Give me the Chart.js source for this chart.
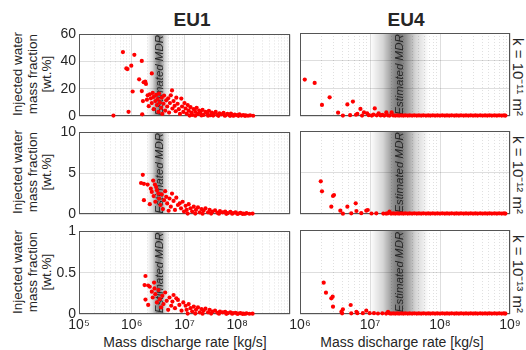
<!DOCTYPE html>
<html>
<head>
<meta charset="utf-8">
<script src="https://cdn.jsdelivr.net/npm/chart.js@4.4.1/dist/chart.umd.min.js"></script>
<style>
  body { margin: 0; background: #fff; }
  #wrap { position: relative; width: 526px; height: 350px; overflow: hidden;
          font-family: "Liberation Sans", Arial, sans-serif; color: #262626; }
  #wrap canvas { position: absolute; }
  .lbl { position: absolute; white-space: nowrap; transform: translate(-50%, -50%); }
  .ttl { font-weight: bold; font-size: 19px; }
  .ylab { transform: translate(-50%, -50%) rotate(-90deg); text-align: center;
          font-size: 13.5px; line-height: 14.5px; }
  .klab { transform: translate(-50%, -50%) rotate(90deg); font-size: 15px; }
  .xt { font-size: 14px; }
</style>
</head>
<body>
<div id="wrap">
  <div class="lbl ttl" style="left:192px;top:20px">EU1</div>
  <div class="lbl ttl" style="left:406px;top:20px">EU4</div>

  <div class="lbl ylab" style="left:33px;top:74px">Injected water<br>mass fraction<br>[wt.%]</div>
  <div class="lbl ylab" style="left:33px;top:172px">Injected water<br>mass fraction<br>[wt.%]</div>
  <div class="lbl ylab" style="left:33px;top:272px">Injected water<br>mass fraction<br>[wt.%]</div>

  <div class="lbl klab" style="left:519px;top:77px">k = 10⁻¹¹ m²</div>
  <div class="lbl klab" style="left:519px;top:175px">k = 10⁻¹² m²</div>
  <div class="lbl klab" style="left:519px;top:274px">k = 10⁻¹³ m²</div>

  <div class="lbl xt" style="left:185px;top:342px">Mass discharge rate [kg/s]</div>
  <div class="lbl xt" style="left:402px;top:342px">Mass discharge rate [kg/s]</div>
</div>

<script>
// x range (decades) and which decades get a label
const eu1Decades = [5, 6, 7, 8, 9];
const eu1Labels = [5, 6, 7, 8];
const eu4Decades = [6, 7, 8, 9];
const eu4Labels = [6, 7, 8, 9];

// y axis per row: k = 1e-11, 1e-12, 1e-13
const rowMax = [60, 10, 1];
const rowStep = [20, 5, 0.5];

// estimated MDR band [low, centre, high] in kg/s
const mdrEU1 = [1.95e6, 3.3e6, 5.2e6];
const mdrEU4 = [1.0e7, 2.6e7, 7.0e7];

// [mass discharge rate kg/s, injected water wt.%]
const eu1K11 = [
  [4.5e5,0.3],[6.8e5,47],[7.9e5,35],[8.3e5,34.5],[8.7e5,3.1],[9.8e5,37],[1.04e6,18],[1.12e6,45],
  [1.38e6,27],[1.55e6,40.5],[1.55e6,18.3],[1.58e6,1.2],[1.63e6,11],[1.68e6,24.8],[1.8e6,25.3],
  [1.86e6,23.6],[1.94e6,12],[2.0e6,15.2],[2.1e6,7.2],[2.4e6,31.3],
  [2.2e6,16],[2.3e6,13],[2.4e6,9.5],[2.5e6,17],[2.6e6,14],[2.6e6,5],[2.8e6,11],[2.9e6,15.5],
  [3.0e6,8],[3.1e6,12.5],[3.2e6,3],[3.3e6,16.5],[3.4e6,10],[3.6e6,6],[3.7e6,13.5],[3.8e6,1.5],
  [4.0e6,9],[4.1e6,15],[4.3e6,4],[4.5e6,11.5],[4.7e6,7],[4.9e6,13],[5.1e6,2.5],[5.3e6,9.5],
  [5.5e6,15.2],[5.8e6,18.8],[5.9e6,5.5],[6.2e6,11],[6.5e6,7.5],[6.8e6,3.5],[7.0e6,13.5],[7.4e6,9],
  [7.8e6,5],[8.2e6,1.5],[8.7e6,12.8],[9.0e6,7],[9.5e6,3],[1.0e7,9.5],
  [1.05e7,5.5],[1.1e7,1.8],[1.15e7,8],[1.2e7,4],[1.3e7,6.5],[1.35e7,2.5],[1.4e7,0.8],[1.5e7,5],
  [1.6e7,3],[1.7e7,6],[1.8e7,1.5],[1.9e7,4],[2.0e7,2.5],[2.2e7,4.5],[2.3e7,0.8],[2.5e7,3],
  [2.7e7,1.8],[2.9e7,3.8],[3.1e7,0.6],[3.3e7,2.5],[3.6e7,1.5],[3.9e7,3],[4.2e7,0.8],[4.6e7,2],
  [5.0e7,1.2],[5.5e7,2.3],[6.0e7,0.5],[6.5e7,1.5],[7.0e7,0.9],[7.6e7,1.8],[8.2e7,0.4],[9.0e7,1],
  [1.0e8,0.6],[1.1e8,1.2],[1.2e8,0.3],[1.3e8,0.7],[1.45e8,0.4],[1.6e8,0.2],[1.75e8,0.5],[2.0e8,0.2],
  [1.25e7,0.3],[1.6e7,0.2],[2.1e7,0.4],[2.8e7,0.2],[3.5e7,0.3],[4.4e7,0.1],[5.8e7,0.2],[7.3e7,0.1],
  [8.6e7,0.2],[1.05e8,0.1],[1.4e8,0.1]
];
const eu1K12 = [
  [1.62e6,4.8],[1.5e6,3.8],[1.7e6,3.7],[2.0e6,3.6],[1.7e6,1.7],[2.2e6,1.2],[2.55e6,4.1],[2.75e6,3.6],
  [2.9e6,3.3],[2.3e6,3.1],[3.2e6,2.5],[5.8e6,2.5],[4.5e6,2.1],[8.1e6,1.3],
  [2.4e6,2.7],[2.6e6,2.2],[2.8e6,1.5],[3.0e6,2.9],[3.3e6,1.9],[3.5e6,1.1],[3.7e6,2.4],[3.9e6,0.6],
  [4.1e6,1.7],[4.3e6,2.8],[4.7e6,1.3],[5.0e6,0.4],[5.2e6,1.9],[5.5e6,0.9],[6.2e6,1.6],[6.6e6,0.5],
  [7.0e6,2.0],[7.5e6,1.1],[8.6e6,0.7],[9.2e6,1.5],[9.8e6,0.3],
  [1.05e7,1.0],[1.1e7,0.5],[1.2e7,1.2],[1.3e7,0.7],[1.4e7,0.3],[1.5e7,0.9],[1.65e7,0.5],[1.8e7,0.8],
  [1.95e7,0.2],[2.1e7,0.6],[2.3e7,0.4],[2.5e7,0.7],[2.8e7,0.2],[3.0e7,0.5],[3.4e7,0.3],[3.8e7,0.45],
  [4.2e7,0.15],[4.7e7,0.35],[5.3e7,0.2],[5.9e7,0.3],[6.6e7,0.1],[7.4e7,0.25],[8.3e7,0.1],[9.3e7,0.2],
  [1.05e8,0.05],[1.15e8,0.15],[1.3e8,0.05],[1.5e8,0.1],[1.7e8,0.03],[1.95e8,0.05],
  [1.15e7,0.05],[1.6e7,0.05],[2.2e7,0.03],[3.2e7,0.05],[4.5e7,0.03],[6.2e7,0.02],[8.0e7,0.03],
  [1.0e8,0.02],[1.25e8,0.02],[1.4e8,0.02]
];
const eu1K13 = [
  [1.82e6,0.46],[1.75e6,0.35],[2.05e6,0.345],[2.2e6,0.33],[2.7e6,0.31],[2.65e6,0.38],[1.82e6,0.175],
  [2.05e6,0.11],[6.2e6,0.23],[7.5e6,0.17],
  [2.4e6,0.27],[2.5e6,0.2],[2.8e6,0.24],[3.0e6,0.14],[3.2e6,0.29],[3.4e6,0.18],[3.6e6,0.08],
  [3.8e6,0.22],[4.0e6,0.12],[4.3e6,0.26],[4.6e6,0.16],[4.9e6,0.05],[5.2e6,0.2],[5.6e6,0.1],
  [5.9e6,0.15],[6.6e6,0.07],[7.0e6,0.19],[8.0e6,0.11],[8.8e6,0.04],[9.5e6,0.14],
  [1.05e7,0.1],[1.1e7,0.05],[1.2e7,0.12],[1.3e7,0.07],[1.4e7,0.03],[1.5e7,0.09],[1.65e7,0.05],
  [1.8e7,0.08],[1.95e7,0.02],[2.1e7,0.06],[2.3e7,0.04],[2.5e7,0.065],[2.8e7,0.02],[3.0e7,0.05],
  [3.4e7,0.03],[3.8e7,0.04],[4.2e7,0.015],[4.7e7,0.03],[5.3e7,0.02],[5.9e7,0.025],[6.6e7,0.01],
  [7.4e7,0.02],[8.3e7,0.01],[9.3e7,0.015],[1.05e8,0.005],[1.15e8,0.01],[1.3e8,0.005],[1.5e8,0.008],
  [1.7e8,0.003],[1.95e8,0.004],
  [1.15e7,0.005],[1.6e7,0.005],[2.2e7,0.003],[3.2e7,0.005],[4.5e7,0.003],[6.2e7,0.002],
  [8.0e7,0.003],[1.0e8,0.002],[1.25e8,0.002],[1.4e8,0.002]
];
const eu4K11 = [
  [1.17e6,26.3],[1.62e6,23.9],[2.06e6,8.0],[2.65e6,13.5],[3.5e6,2.4],[4.1e6,0.3],[4.75e6,8.4],
  [5.2e6,0.6],[5.7e6,10.4],[6.3e6,0.9],[6.6e6,1.6],[7.3e6,5.1],[7.7e6,0.3],[8.2e6,2.6],[9.1e6,1.9],
  [9.6e6,0.6],[1.06e7,0.3],[1.12e7,1.0],[1.17e7,5.5],[1.25e7,0.5],[1.33e7,1.9],[1.42e7,0.4],
  [1.5e7,0.8],[1.6e7,0.3],[1.71e7,2.6],[1.8e7,0.5],[1.9e7,0.3],[2.04e7,2.6],[2.15e7,0.4],
  [2.3e7,0.3],[2.45e7,0.5],[2.6e7,0.3],[2.8e7,0.4],[3.0e7,0.3],[3.2e7,0.5],[3.45e7,0.3],[3.7e7,0.4],
  [4.0e7,0.3],[4.3e7,0.5],[4.65e7,0.3],[5.0e7,0.4],[5.4e7,0.3],[5.8e7,0.5],[6.3e7,0.3],[6.8e7,0.4],
  [7.3e7,0.3],[7.9e7,0.5],[8.5e7,0.3],[9.2e7,0.4],[1.0e8,0.3],[1.08e8,0.5],[1.17e8,0.3],[1.26e8,0.4],
  [1.36e8,0.3],[1.47e8,0.5],[1.6e8,0.3],[1.72e8,0.4],[1.86e8,0.3],[2.0e8,0.5],[2.17e8,0.3],
  [2.35e8,0.4],[2.55e8,0.3],[2.75e8,0.5],[2.97e8,0.3],[3.2e8,0.4],[3.45e8,0.3],[3.75e8,0.5],
  [4.05e8,0.3],[4.4e8,0.4],[4.75e8,0.3],[5.1e8,0.5],[5.5e8,0.3],[6.0e8,0.4],[6.5e8,0.3],[7.0e8,0.5],
  [7.6e8,0.3],[8.2e8,0.4],[8.6e8,0.3]
];
const eu4K12 = [
  [1.98e6,3.94],[2.06e6,2.73],[2.96e6,2.17],[3.06e6,2.29],[2.8e6,0.88],[4.75e6,0.88],[6.25e6,1.29],
  [3.77e6,0.4],[4.1e6,0.04],[5.4e6,0.08],[6.4e6,0.36],[7.5e6,0.1],[8.85e6,0.4],[9.3e6,0.48],
  [1.05e7,0.06],[1.23e7,0.08],[1.55e7,0.05],[1.9e7,0.28],
  [1.7e7,0.05],[1.8e7,0.08],[2.0e7,0.05],[2.15e7,0.07],[2.3e7,0.05],[2.45e7,0.08],[2.6e7,0.05],
  [2.8e7,0.07],[3.0e7,0.05],[3.2e7,0.08],[3.45e7,0.05],[3.7e7,0.07],[4.0e7,0.05],[4.3e7,0.08],
  [4.65e7,0.05],[5.0e7,0.07],[5.4e7,0.05],[5.8e7,0.08],[6.3e7,0.05],[6.8e7,0.07],[7.3e7,0.05],
  [7.9e7,0.08],[8.5e7,0.05],[9.2e7,0.07],[1.0e8,0.05],[1.08e8,0.08],[1.17e8,0.05],[1.26e8,0.07],
  [1.36e8,0.05],[1.47e8,0.08],[1.6e8,0.05],[1.72e8,0.07],[1.86e8,0.05],[2.0e8,0.08],[2.17e8,0.05],
  [2.35e8,0.07],[2.55e8,0.05],[2.75e8,0.08],[2.97e8,0.05],[3.2e8,0.07],[3.45e8,0.05],[3.75e8,0.08],
  [4.05e8,0.05],[4.4e8,0.07],[4.75e8,0.05],[5.1e8,0.08],[5.5e8,0.05],[6.0e8,0.07],[6.5e8,0.05],
  [7.0e8,0.08],[7.6e8,0.05],[8.2e8,0.07],[8.6e8,0.05]
];
const eu4K13 = [
  [2.18e6,0.373],[2.35e6,0.254],[2.8e6,0.187],[2.93e6,0.206],[2.96e6,0.087],[4.1e6,0.056],
  [3.9e6,0.027],[4.0e6,0.008],[5.3e6,0.107],[5.4e6,0.008],[6.4e6,0.027],[6.6e6,0.01],[7.9e6,0.01],
  [8.85e6,0.04],[9.9e6,0.01],[1.14e7,0.01],[1.3e7,0.006],[1.5e7,0.008],[1.81e7,0.027],
  [1.7e7,0.005],[1.9e7,0.008],[2.0e7,0.005],[2.15e7,0.007],[2.3e7,0.005],[2.45e7,0.008],[2.6e7,0.005],
  [2.8e7,0.007],[3.0e7,0.005],[3.2e7,0.008],[3.45e7,0.005],[3.7e7,0.007],[4.0e7,0.005],[4.3e7,0.008],
  [4.65e7,0.005],[5.0e7,0.007],[5.4e7,0.005],[5.8e7,0.008],[6.3e7,0.005],[6.8e7,0.007],[7.3e7,0.005],
  [7.9e7,0.008],[8.5e7,0.005],[9.2e7,0.007],[1.0e8,0.005],[1.08e8,0.008],[1.17e8,0.005],[1.26e8,0.007],
  [1.36e8,0.005],[1.47e8,0.008],[1.6e8,0.005],[1.72e8,0.007],[1.86e8,0.005],[2.0e8,0.008],[2.17e8,0.005],
  [2.35e8,0.007],[2.55e8,0.005],[2.75e8,0.008],[2.97e8,0.005],[3.2e8,0.007],[3.45e8,0.005],[3.75e8,0.008],
  [4.05e8,0.005],[4.4e8,0.007],[4.75e8,0.005],[5.1e8,0.008],[5.5e8,0.005],[6.0e8,0.007],[6.5e8,0.005],
  [7.0e8,0.008],[7.6e8,0.005],[8.2e8,0.007],[8.6e8,0.005]
];

const SUP = { 5: '⁵', 6: '⁶', 7: '⁷', 8: '⁸', 9: '⁹' };
const MAJOR = 'rgba(0,0,0,0.13)';
const MINOR = 'rgba(0,0,0,0.12)';

Chart.defaults.font.family = '"Liberation Sans", Arial, sans-serif';
Chart.defaults.color = '#262626';

function isDecade(v) {
  const e = Math.log10(v);
  return Math.abs(e - Math.round(e)) < 1e-9;
}

// band + "Estimated MDR" + axes box
const mdrPlugin = {
  id: 'mdrBand',
  beforeDatasetsDraw(chart, args, opts) {
    const { ctx, chartArea: a, scales } = chart;
    const x0 = scales.x.getPixelForValue(opts.band[0]);
    const xc = scales.x.getPixelForValue(opts.band[1]);
    const x1 = scales.x.getPixelForValue(opts.band[2]);
    const mid = (xc - x0) / (x1 - x0);
    const d = opts.depth;
    ctx.save();
    ctx.beginPath();
    ctx.rect(a.left, a.top, a.width, a.height);
    ctx.clip();
    const g = ctx.createLinearGradient(x0, 0, x1, 0);
    g.addColorStop(0, 'rgba(0,0,0,0)');
    g.addColorStop(mid * 0.45, 'rgba(0,0,0,' + (d * 0.3) + ')');
    g.addColorStop(mid * 0.8, 'rgba(0,0,0,' + (d * 0.8) + ')');
    g.addColorStop(mid, 'rgba(0,0,0,' + d + ')');
    g.addColorStop(mid + (1 - mid) * 0.2, 'rgba(0,0,0,' + (d * 0.8) + ')');
    g.addColorStop(mid + (1 - mid) * 0.55, 'rgba(0,0,0,' + (d * 0.3) + ')');
    g.addColorStop(1, 'rgba(0,0,0,0)');
    ctx.fillStyle = g;
    ctx.fillRect(x0, a.top, x1 - x0, a.height);
    ctx.translate(xc + 1, (a.top + a.bottom) / 2);
    ctx.rotate(-Math.PI / 2);
    ctx.font = 'italic 11.5px "Liberation Sans", Arial, sans-serif';
    ctx.fillStyle = '#262626';
    ctx.textAlign = 'center';
    ctx.textBaseline = 'middle';
    ctx.fillText('Estimated MDR', 0, 0);
    ctx.restore();

    ctx.save();
    ctx.strokeStyle = '#555';
    ctx.lineWidth = 1;
    ctx.strokeRect(Math.round(a.left) + 0.5, Math.round(a.top) + 0.5,
                   Math.round(a.width) - 1, Math.round(a.height) - 1);
    ctx.restore();
  }
};

function makePanel(cfg) {
  const padL = 40, padT = 10, padR = 16, padB = 26;
  const cv = document.createElement('canvas');
  cv.width = cfg.w + padL + padR;
  cv.height = cfg.h + padT + padB;
  cv.style.left = (cfg.l - padL) + 'px';
  cv.style.top = (cfg.t - padT) + 'px';
  document.getElementById('wrap').appendChild(cv);

  const xTicks = [];
  cfg.decades.forEach((d, i) => {
    if (i === cfg.decades.length - 1) { xTicks.push(Math.pow(10, d)); return; }
    for (let m = 1; m <= 9; m++) xTicks.push(m * Math.pow(10, d));
  });

  new Chart(cv, {
    type: 'scatter',
    data: {
      datasets: [{
        data: cfg.data.map(p => ({ x: p[0], y: p[1] })),
        backgroundColor: '#ff0000',
        borderWidth: 0,
        pointRadius: 2.1,
        pointHoverRadius: 2.1,
        clip: 4
      }]
    },
    options: {
      responsive: false,
      animation: false,
      devicePixelRatio: 1,
      layout: { padding: { left: 0, top: padT, right: padR, bottom: 0 } },
      plugins: {
        legend: { display: false },
        tooltip: { enabled: false },
        mdrBand: { band: cfg.band, depth: cfg.depth }
      },
      scales: {
        x: {
          type: 'logarithmic',
          min: Math.pow(10, cfg.decades[0]),
          max: Math.pow(10, cfg.decades[cfg.decades.length - 1]),
          afterBuildTicks: s => { s.ticks = xTicks.map(v => ({ value: v })); },
          afterFit: s => { s.height = padB; },
          grid: {
            drawTicks: false,
            color: c => isDecade(c.tick.value) ? MAJOR : MINOR
          },
          border: {
            display: false,
            dash: c => (c.tick && isDecade(c.tick.value)) ? [] : [1, 2]
          },
          ticks: {
            display: cfg.showX,
            autoSkip: false,
            maxRotation: 0,
            padding: 3,
            font: { size: 14 },
            callback: v => {
              if (!isDecade(v)) return '';
              const e = Math.round(Math.log10(v));
              return cfg.labels.includes(e) ? '10' + SUP[e] : '';
            }
          }
        },
        y: {
          min: 0,
          max: cfg.ymax,
          afterFit: s => { s.width = padL; },
          grid: { drawTicks: false, color: MAJOR },
          border: { display: false },
          ticks: {
            display: cfg.showY,
            stepSize: cfg.ystep,
            padding: 3,
            font: { size: 14 },
            callback: v => String(v)
          }
        }
      }
    },
    plugins: [mdrPlugin]
  });
}

const rowsTop = [33, 131, 230];
const rowsH = [83, 83, 84];
const eu1Data = [eu1K11, eu1K12, eu1K13];
const eu4Data = [eu4K11, eu4K12, eu4K13];

for (let r = 0; r < 3; r++) {
  makePanel({
    l: 79, w: 211, t: rowsTop[r], h: rowsH[r],
    decades: eu1Decades, labels: eu1Labels, band: mdrEU1, depth: 0.5,
    data: eu1Data[r], ymax: rowMax[r], ystep: rowStep[r],
    showX: r === 2, showY: true
  });
  makePanel({
    l: 300, w: 210, t: rowsTop[r], h: rowsH[r],
    decades: eu4Decades, labels: eu4Labels, band: mdrEU4, depth: 0.55,
    data: eu4Data[r], ymax: rowMax[r], ystep: rowStep[r],
    showX: r === 2, showY: false
  });
}
</script>
</body>
</html>
